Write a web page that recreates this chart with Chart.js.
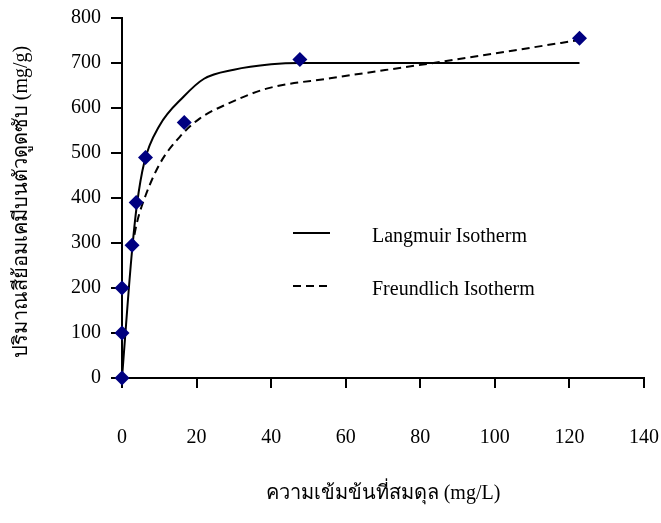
<!DOCTYPE html>
<html>
<head>
<meta charset="utf-8">
<script src="https://cdn.jsdelivr.net/npm/chart.js@4/dist/chart.umd.min.js"></script>
<style>
  html, body { margin: 0; padding: 0; background: #fff; }
  #wrap { width: 661px; height: 523px; position: relative; }
</style>
</head>
<body>
<div id="wrap"><canvas id="chartIsotherm" width="661" height="523"></canvas></div>
<script>
// Datos experimentales (Ce, qe)
const concentration = [0, 0, 0, 2.7, 3.8, 6.3, 16.7, 47.7, 122.7];
const uptake = [0, 100, 200, 295, 390, 490, 568, 708, 755];

// Curvas
const langmuirX = [0, 2.5, 4, 6, 10, 16.5, 22, 30, 40, 47.7, 122.7];
const langmuirY = [0, 265, 385, 480, 560, 625, 665, 685, 697, 700, 700];

const freundlichX = [2.7, 4, 6.3, 10.2, 15.5, 20.9, 28, 38.8, 55.8, 82.6, 122.7];
const freundlichY = [290, 345, 405, 477, 536, 577, 608, 643, 666, 699, 751];

const xTicks = [0, 20, 40, 60, 80, 100, 120, 140];
const yTicks = [0, 100, 200, 300, 400, 500, 600, 700, 800];

const seriesNames = ['Langmuir Isotherm', 'Freundlich Isotherm'];
const xTitle = 'ความเข้มข้นที่สมดุล (mg/L)';
const yTitle = 'ปริมาณสีย้อมเคมีบนตัวดูดซับ (mg/g)';

const serif = "'Liberation Serif', 'Times New Roman', serif";

const toPoints = (xs, ys) => xs.map((x, i) => ({ x: x, y: ys[i] }));

// leyenda y títulos dibujados a mano
const annotations = {
    id: 'annotations',
    afterDraw(chart) {
        const ctx = chart.ctx;
        ctx.save();
        ctx.fillStyle = '#000';
        ctx.strokeStyle = '#000';
        ctx.lineWidth = 2;

        // leyenda
        ctx.font = '20px ' + serif;
        ctx.textBaseline = 'middle';
        ctx.textAlign = 'left';
        const rows = [{ y: 233, dash: [] }, { y: 286, dash: [8, 5] }];
        rows.forEach((r, i) => {
            ctx.setLineDash(r.dash);
            ctx.beginPath();
            ctx.moveTo(293, r.y);
            ctx.lineTo(330, r.y);
            ctx.stroke();
            ctx.fillText(seriesNames[i], 372, r.y + 4);
        });
        ctx.setLineDash([]);

        // título eje X
        ctx.textAlign = 'center';
        ctx.fillText(xTitle, 383, 494);

        // título eje Y
        ctx.translate(22, 202);
        ctx.rotate(-Math.PI / 2);
        ctx.fillText(yTitle, 0, 0);
        ctx.restore();
    }
};

new Chart(document.getElementById('chartIsotherm'), {
    type: 'scatter',
    data: {
        datasets: [
            {
                label: 'data',
                data: toPoints(concentration, uptake),
                pointStyle: 'rectRot',
                pointRadius: 7.5,
                backgroundColor: '#000080',
                borderColor: '#000080',
                borderWidth: 0,
                showLine: false,
                clip: false
            },
            {
                label: seriesNames[0],
                data: toPoints(langmuirX, langmuirY),
                showLine: true,
                borderColor: '#000',
                borderWidth: 2,
                pointRadius: 0,
                cubicInterpolationMode: 'monotone',
                clip: false
            },
            {
                label: seriesNames[1],
                data: toPoints(freundlichX, freundlichY),
                showLine: true,
                borderColor: '#000',
                borderWidth: 2,
                borderDash: [8, 5],
                pointRadius: 0,
                cubicInterpolationMode: 'monotone',
                clip: false
            }
        ]
    },
    options: {
        responsive: false,
        animation: false,
        layout: { padding: { top: 18, right: 17, left: 0, bottom: 0 } },
        plugins: {
            legend: { display: false },
            tooltip: { enabled: false }
        },
        scales: {
            x: {
                type: 'linear',
                min: 0,
                max: 140,
                afterFit: (scale) => {
                    scale.height = 145;
                    scale.paddingLeft = 0;
                    scale.paddingRight = 0;
                },
                afterBuildTicks: (scale) => { scale.ticks = xTicks.map(v => ({ value: v })); },
                ticks: {
                    color: '#000',
                    padding: 38,
                    maxRotation: 0,
                    font: { family: serif, size: 20 }
                },
                grid: {
                    display: true,
                    drawOnChartArea: false,
                    drawTicks: true,
                    tickLength: 10,
                    color: '#000',
                    lineWidth: 2
                },
                border: { display: true, color: '#000', width: 2 }
            },
            y: {
                type: 'linear',
                min: 0,
                max: 800,
                afterFit: (scale) => {
                    scale.width = 122;
                    scale.paddingTop = 0;
                    scale.paddingBottom = 0;
                },
                afterUpdate: (scale) => {
                    // Excel deja el eje más abajo que el margen de Chart.js
                    if (scale.top < 18) scale.top = 18;
                },
                afterBuildTicks: (scale) => { scale.ticks = yTicks.map(v => ({ value: v })); },
                ticks: {
                    color: '#000',
                    padding: 10,
                    font: { family: serif, size: 20 }
                },
                grid: {
                    display: true,
                    drawOnChartArea: false,
                    drawTicks: true,
                    tickLength: 11,
                    color: '#000',
                    lineWidth: 2
                },
                border: { display: true, color: '#000', width: 2 }
            }
        }
    },
    plugins: [annotations]
});
</script>
</body>
</html>
